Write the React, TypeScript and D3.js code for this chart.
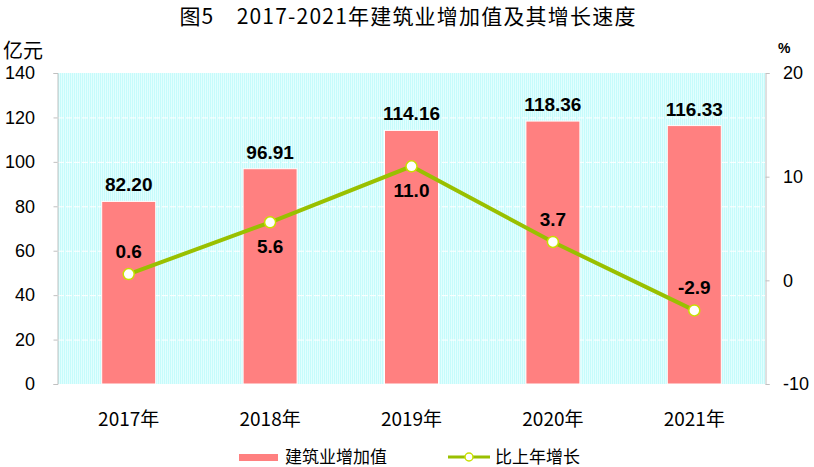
import React, { useEffect, useRef } from 'react';
import * as d3 from 'd3';

// data
const years = ['2017年', '2018年', '2019年', '2020年', '2021年'];
const addedValue = [82.2, 96.91, 114.16, 118.36, 116.33];
const growthRate = [0.6, 5.6, 11.0, 3.7, -2.9];
const growthLabelSide = ['above', 'below', 'below', 'above', 'above'];
const leftTicks = [0, 20, 40, 60, 80, 100, 120, 140];
const rightTicks = [-10, 0, 10, 20];

const W = 814;
const H = 467;
const margin = { top: 73, right: 49, bottom: 83, left: 58 };

const BAR_COLOR = '#ff8080';
const LINE_COLOR = '#99c000';
const CJK = '"Noto Sans CJK SC", "Noto Sans", sans-serif';
const NUM = '"Liberation Sans", Arial, sans-serif';

export default function App() {
  const svgRef = useRef<SVGSVGElement>(null);

  useEffect(() => {
    if (!svgRef.current) return;
    const svg = d3.select(svgRef.current);
    svg.selectAll('*').remove();

    const x0 = margin.left;
    const x1 = W - margin.right;
    const yTop = margin.top;
    const yBot = H - margin.bottom;

    const x = d3.scaleBand<string>().domain(years).range([x0, x1]).paddingInner(0).paddingOuter(0);
    const yL = d3.scaleLinear().domain([0, 140]).range([yBot, yTop]);
    const yR = d3.scaleLinear().domain([-10, 20]).range([yBot, yTop]);

    // striped light cyan background
    const defs = svg.append('defs');
    const pat = defs
      .append('pattern')
      .attr('id', 'stripes')
      .attr('patternUnits', 'userSpaceOnUse')
      .attr('width', 2)
      .attr('height', 4);
    pat.append('rect').attr('width', 2).attr('height', 4).attr('fill', '#e2fefe');
    pat.append('rect').attr('width', 1).attr('height', 4).attr('fill', '#c6fbfb');

    svg
      .append('rect')
      .attr('x', x0)
      .attr('y', yTop)
      .attr('width', x1 - x0)
      .attr('height', yBot - yTop)
      .attr('fill', 'url(#stripes)');

    // white dashed gridlines
    svg
      .append('g')
      .selectAll('line')
      .data(leftTicks.filter(t => t > 0 && t < 140))
      .join('line')
      .attr('x1', x0)
      .attr('x2', x1)
      .attr('y1', d => yL(d) + 0.5)
      .attr('y2', d => yL(d) + 0.5)
      .attr('stroke', '#ffffff')
      .attr('stroke-width', 1)
      .attr('stroke-dasharray', '6,2');

    // axes
    const leftAxis = svg
      .append('g')
      .attr('transform', `translate(${x0 - 0.5},0)`)
      .call(d3.axisLeft(yL).tickValues(leftTicks).tickSize(4).tickFormat(() => ''));
    leftAxis.selectAll('path,line').attr('stroke', '#c0c0c0');

    const rightAxis = svg
      .append('g')
      .attr('transform', `translate(${x1 + 0.5},0)`)
      .call(d3.axisRight(yR).tickValues(rightTicks).tickSize(4).tickFormat(() => ''));
    rightAxis.selectAll('path,line').attr('stroke', '#c0c0c0');

    svg
      .append('g')
      .selectAll('text')
      .data(leftTicks)
      .join('text')
      .attr('x', 35)
      .attr('y', d => yL(d))
      .attr('dy', '0.35em')
      .attr('text-anchor', 'end')
      .attr('font-family', NUM)
      .attr('font-size', 18)
      .text(d => d);

    svg
      .append('g')
      .selectAll('text')
      .data(rightTicks)
      .join('text')
      .attr('x', 783)
      .attr('y', d => yR(d))
      .attr('dy', '0.35em')
      .attr('font-family', NUM)
      .attr('font-size', 18)
      .text(d => d);

    // bars
    const barW = 54;
    svg
      .append('g')
      .selectAll('rect')
      .data(addedValue)
      .join('rect')
      .attr('x', (d, i) => x(years[i])! + x.bandwidth() / 2 - barW / 2)
      .attr('y', d => yL(d))
      .attr('width', barW)
      .attr('height', d => yBot - yL(d))
      .attr('fill', BAR_COLOR)
      .attr('stroke', '#ffffff')
      .attr('stroke-width', 1);

    svg
      .append('g')
      .selectAll('text')
      .data(addedValue)
      .join('text')
      .attr('x', (d, i) => x(years[i])! + x.bandwidth() / 2)
      .attr('y', d => yL(d) - 10)
      .attr('text-anchor', 'middle')
      .attr('font-family', NUM)
      .attr('font-weight', 'bold')
      .attr('font-size', 19)
      .text(d => d.toFixed(2));

    // growth line
    const cx = (i: number) => x(years[i])! + x.bandwidth() / 2;
    const line = d3
      .line<number>()
      .x((d, i) => cx(i))
      .y(d => yR(d));
    svg
      .append('path')
      .datum(growthRate)
      .attr('d', line)
      .attr('fill', 'none')
      .attr('stroke', LINE_COLOR)
      .attr('stroke-width', 4);

    svg
      .append('g')
      .selectAll('circle')
      .data(growthRate)
      .join('circle')
      .attr('cx', (d, i) => cx(i))
      .attr('cy', d => yR(d))
      .attr('r', 5.5)
      .attr('fill', '#ffffff')
      .attr('stroke', '#c8e000')
      .attr('stroke-width', 1.5);

    svg
      .append('g')
      .selectAll('text')
      .data(growthRate)
      .join('text')
      .attr('x', (d, i) => cx(i))
      .attr('y', (d, i) => yR(d) + (growthLabelSide[i] === 'above' ? -16 : 31))
      .attr('text-anchor', 'middle')
      .attr('font-family', NUM)
      .attr('font-weight', 'bold')
      .attr('font-size', 19)
      .text(d => d.toFixed(1));

    // category labels
    svg
      .append('g')
      .selectAll('text')
      .data(years)
      .join('text')
      .attr('x', d => x(d)! + x.bandwidth() / 2)
      .attr('y', 419)
      .attr('dy', '0.35em')
      .attr('text-anchor', 'middle')
      .attr('font-family', CJK)
      .attr('font-size', 19)
      .text(d => d);

    // axis unit labels
    svg
      .append('text')
      .attr('x', 3)
      .attr('y', 58)
      .attr('font-family', CJK)
      .attr('font-size', 20)
      .text('亿元');
    svg
      .append('text')
      .attr('x', 778)
      .attr('y', 53)
      .attr('font-family', NUM)
      .attr('font-weight', 'bold')
      .attr('font-size', 14)
      .text('%');

    // title
    svg
      .append('text')
      .attr('x', 408)
      .attr('y', 24)
      .attr('text-anchor', 'middle')
      .attr('font-family', CJK)
      .attr('font-size', 21)
      .attr('letter-spacing', 1.2)
      .text('图5　2017-2021年建筑业增加值及其增长速度');

    // legend
    const lg = svg.append('g');
    lg.append('rect')
      .attr('x', 239)
      .attr('y', 454)
      .attr('width', 39)
      .attr('height', 7)
      .attr('fill', BAR_COLOR);
    lg.append('text')
      .attr('x', 285)
      .attr('y', 457)
      .attr('dy', '0.35em')
      .attr('font-family', CJK)
      .attr('font-size', 17)
      .text('建筑业增加值');
    lg.append('line')
      .attr('x1', 448)
      .attr('x2', 490)
      .attr('y1', 457)
      .attr('y2', 457)
      .attr('stroke', LINE_COLOR)
      .attr('stroke-width', 3);
    lg.append('circle')
      .attr('cx', 469)
      .attr('cy', 457)
      .attr('r', 4)
      .attr('fill', '#ffffff')
      .attr('stroke', '#c8e000')
      .attr('stroke-width', 1.5);
    lg.append('text')
      .attr('x', 495)
      .attr('y', 457)
      .attr('dy', '0.35em')
      .attr('font-family', CJK)
      .attr('font-size', 17)
      .text('比上年增长');
  }, []);

  return (
    <svg
      ref={svgRef}
      width={W}
      height={H}
      style={{ display: 'block', position: 'absolute', left: 0, top: 0, background: '#ffffff' }}
    />
  );
}
